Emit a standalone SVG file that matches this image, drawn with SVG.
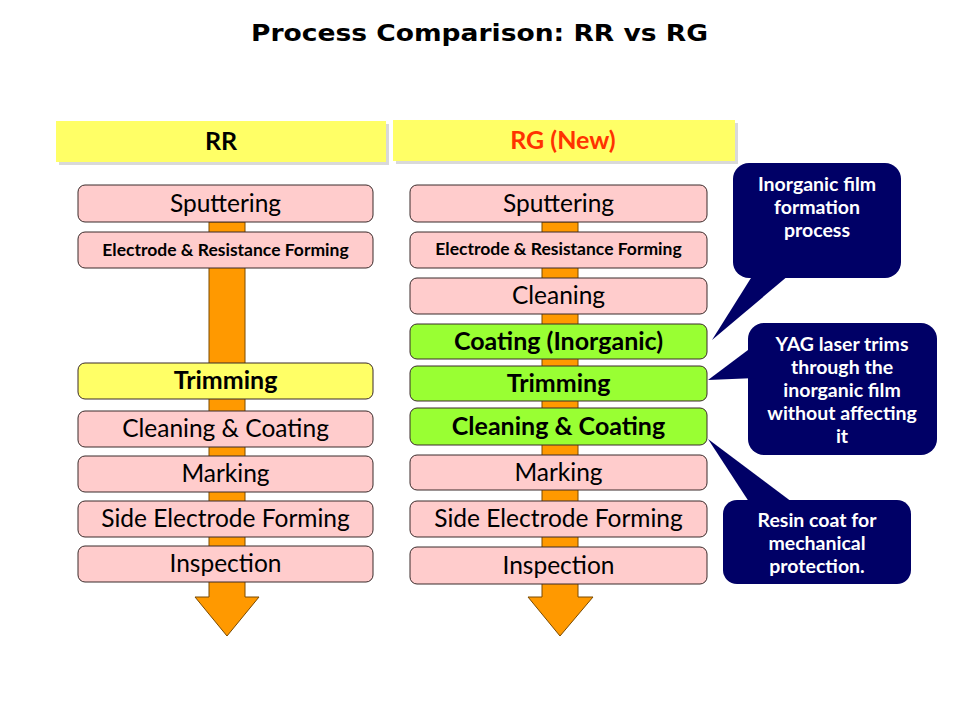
<svg xmlns="http://www.w3.org/2000/svg" width="960" height="720" viewBox="0 0 960 720">
<style>
.bg{fill:#ffffff}
.title{font-family:"DejaVu Sans",Verdana,sans-serif;font-weight:bold;font-size:23px;fill:#000}
.hdr{fill:#ffff66}
.shadow{fill:#d9d9d9}
.box{stroke:#3a2a2a;stroke-width:1}
.pink{fill:#ffcccc}
.yel{fill:#ffff66}
.grn{fill:#99ff33}
.t{font-family:Lato,"Open Sans",sans-serif;font-size:24.5px;fill:#000;text-anchor:middle}
.b{font-weight:bold;font-size:25px}
.s{font-size:17.5px}
.arrow{fill:#ff9900;stroke:#7a4a00;stroke-width:1}
.call{fill:#000066}
.ct{font-family:Lato,"Open Sans",sans-serif;font-weight:bold;font-size:19.5px;fill:#ffffff;text-anchor:middle}
</style>
<rect class="bg" x="0" y="0" width="960" height="720"/>
<text class="title" x="251" y="41" textLength="457" lengthAdjust="spacingAndGlyphs">Process Comparison: RR vs RG</text>

<g id="connectors">
  <path class="arrow" d="M209,222 L245,222 L245,597 L259,597 L227,636 L195,597 L209,597 Z"/>
  <path class="arrow" d="M542,222 L578,222 L578,597 L593,597 L560,636 L528,597 L542,597 Z"/>
</g>

<g id="hdr-rr">
  <rect class="shadow" x="59" y="124" width="330" height="41"/>
  <rect class="hdr" x="56" y="121" width="330" height="41"/>
  <text class="t b" x="221" y="150">RR</text>
</g>
<g id="hdr-rg">
  <rect class="shadow" x="396" y="123" width="342" height="41"/>
  <rect class="hdr" x="393" y="120" width="342" height="41"/>
  <text class="t b" x="563" y="149" style="fill:#ff3300">RG (New)</text>
</g>

<g id="rr-sputtering"><rect class="box pink" x="78" y="185" width="295" height="37" rx="7"/><text class="t" x="225.5" y="212">Sputtering</text></g>
<g id="rr-electrode"><rect class="box pink" x="78" y="232" width="295" height="36" rx="7"/><text class="t b s" x="225.5" y="256">Electrode &amp; Resistance Forming</text></g>
<g id="rr-trimming"><rect class="box yel" x="78" y="363" width="295" height="36" rx="7"/><text class="t b" x="225.5" y="389">Trimming</text></g>
<g id="rr-cleaning-coating"><rect class="box pink" x="78" y="411" width="295" height="36" rx="7"/><text class="t" x="225.5" y="437">Cleaning &amp; Coating</text></g>
<g id="rr-marking"><rect class="box pink" x="78" y="456" width="295" height="36" rx="7"/><text class="t" x="225.5" y="482">Marking</text></g>
<g id="rr-side"><rect class="box pink" x="78" y="501" width="295" height="36" rx="7"/><text class="t" x="225.5" y="527">Side Electrode Forming</text></g>
<g id="rr-inspection"><rect class="box pink" x="78" y="546" width="295" height="36" rx="7"/><text class="t" x="225.5" y="572">Inspection</text></g>

<g id="rg-sputtering"><rect class="box pink" x="410" y="185" width="297" height="37" rx="7"/><text class="t" x="558.5" y="212">Sputtering</text></g>
<g id="rg-electrode"><rect class="box pink" x="410" y="232" width="297" height="36" rx="7"/><text class="t b s" x="558.5" y="255">Electrode &amp; Resistance Forming</text></g>
<g id="rg-cleaning"><rect class="box pink" x="410" y="278" width="297" height="36" rx="7"/><text class="t" x="558.5" y="304">Cleaning</text></g>
<g id="rg-coating"><rect class="box grn" x="410" y="324" width="297" height="35" rx="7"/><text class="t b" x="558.5" y="350">Coating (Inorganic)</text></g>
<g id="rg-trimming"><rect class="box grn" x="410" y="366" width="297" height="35" rx="7"/><text class="t b" x="558.5" y="392">Trimming</text></g>
<g id="rg-cleaning-coating"><rect class="box grn" x="410" y="408" width="297" height="37" rx="7"/><text class="t b" x="558.5" y="435">Cleaning &amp; Coating</text></g>
<g id="rg-marking"><rect class="box pink" x="410" y="455" width="297" height="35" rx="7"/><text class="t" x="558.5" y="481">Marking</text></g>
<g id="rg-side"><rect class="box pink" x="410" y="501" width="297" height="36" rx="7"/><text class="t" x="558.5" y="527">Side Electrode Forming</text></g>
<g id="rg-inspection"><rect class="box pink" x="410" y="547" width="297" height="37" rx="7"/><text class="t" x="558.5" y="574">Inspection</text></g>

<g id="callout-inorganic">
  <rect class="call" x="733" y="163" width="168" height="115" rx="16"/>
  <polygon class="call" points="756,270 712,340 795,270"/>
  <text class="ct" x="817" y="191">Inorganic  film</text>
  <text class="ct" x="817" y="214">formation</text>
  <text class="ct" x="817" y="237">process</text>
</g>
<g id="callout-yag">
  <rect class="call" x="748" y="323" width="189" height="132" rx="16"/>
  <polygon class="call" points="756,344 708,380 756,378"/>
  <text class="ct" x="842" y="351">YAG laser trims</text>
  <text class="ct" x="842" y="374">through  the</text>
  <text class="ct" x="842" y="397">inorganic film</text>
  <text class="ct" x="842" y="420">without  affecting</text>
  <text class="ct" x="842" y="443">it</text>
</g>
<g id="callout-resin">
  <rect class="call" x="723" y="500" width="188" height="84" rx="14"/>
  <polygon class="call" points="753,508 708,439 800,508"/>
  <text class="ct" x="817" y="527">Resin coat for</text>
  <text class="ct" x="817" y="550">mechanical</text>
  <text class="ct" x="817" y="573">protection.</text>
</g>
</svg>
